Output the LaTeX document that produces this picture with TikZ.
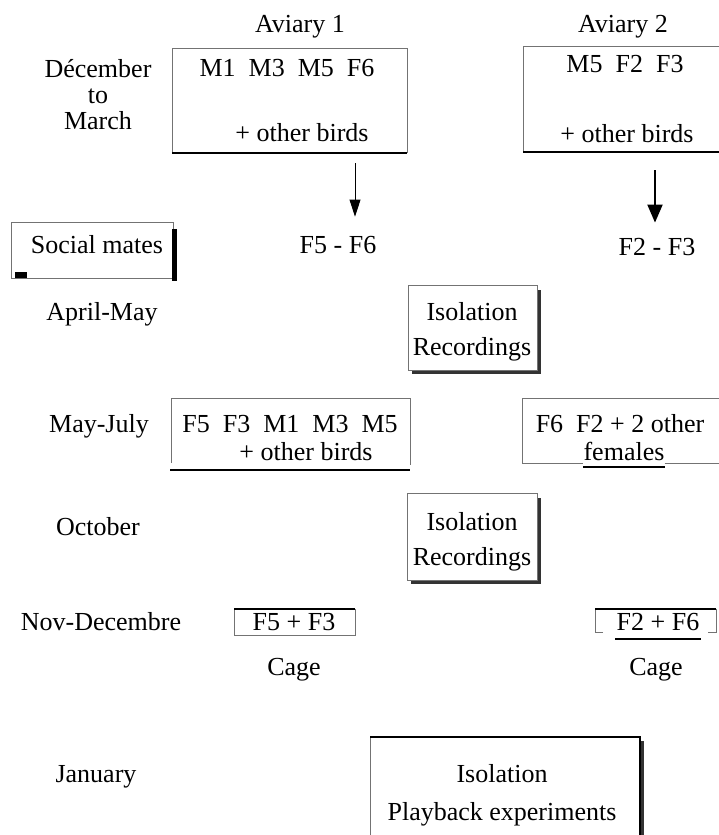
\documentclass[tikz,border=0pt]{standalone}
\usepackage{fontspec}
\setmainfont{Liberation Serif}
\usetikzlibrary{arrows.meta}

\begin{document}
\begin{tikzpicture}[x=1pt,y=1pt]
\tikzstyle{every node}+=[inner sep=0pt, anchor=base, font=\fontsize{26}{26}\selectfont]
\tikzstyle{faint}=[black!55, line width=0.9pt]
\tikzstyle{rule}=[black, line width=1.3pt]
\tikzstyle{shadowline}=[black!80, line width=3.2pt]
\tikzstyle{twoline}=[anchor=center, align=center]
\useasboundingbox (0,0) rectangle (719,-835);
% aviary headings
\draw (300,-32) node (av1) {Aviary 1};
\draw (623,-32) node (av2) {Aviary 2};
% months
\draw (98,-95) node [twoline] (dec) {Décember\\to\\March};
\draw (102,-320) node (apr) {April-May};
\draw (99,-432) node (may) {May-July};
\draw (98,-535) node (oct) {October};
\draw (101,-630) node (nov) {Nov-Decembre};
\draw (96,-782) node (jan) {January};
% december to march
\draw [faint] (172,-153) -- (172,-48) -- (407,-48) -- (407,-153);
\draw [rule] (172,-153) -- (407,-153);
\draw (287,-76) node (win1) {M1\ \ M3\ \ M5\ \ F6};
\draw (302,-141) node (win1b) {+ other birds};
\draw [faint] (523,-152) -- (523,-46) -- (725,-46);
\draw [rule] (523,-152) -- (725,-152);
\draw (625,-72) node (win2) {M5\ \ F2\ \ F3};
\draw (627,-142) node (win2b) {+ other birds};
% pairs
\coordinate (a1) at (355,-163);
\coordinate (a2) at (655,-170);
\draw (338,-253) node (pair1) {F5 - F6};
\draw (657,-255) node (pair2) {F2 - F3};
\draw [black, line width=0.9pt, -{Triangle[length=17pt,width=11pt]}, shorten >=19pt] (a1) -- (a1 |- pair1.north);
\draw [black, line width=2pt, -{Triangle[length=18pt,width=15pt]}, shorten >=15pt] (a2) -- (a2 |- pair2.north);
\draw [faint] (11,-222) rectangle (173,-278);
\draw [black, line width=5pt] (174.5,-229) -- (174.5,-281);
\fill [black] (15,-272) rectangle (27,-278);
\draw (97,-253) node (mates) {Social mates};
% first isolation
\draw [faint] (408,-285) rectangle (537,-370);
\draw [shadowline] (539.5,-290) -- (539.5,-372.5) -- (412,-372.5);
\draw (472,-332) node [twoline, font=\fontsize{26}{35}\selectfont] (iso1) {Isolation\\Recordings};
% may to july
\draw [faint] (171,-463) -- (171,-398) -- (410,-398) -- (410,-465);
\draw [rule] (170,-470) -- (410,-470);
\draw (290,-432) node (sum1) {F5\ \ F3\ \ M1\ \ M3\ \ M5};
\draw (306,-460) node (sum1b) {+ other birds};
\draw [faint] (522,-463) -- (522,-398) -- (725,-398);
\draw (620,-432) node (sum2) {F6\ \ F2 + 2 other};
\draw (624,-460) node (fem) {females};
\draw [faint] (522,-463) -- (fem.west |- 0,-463);
\draw [faint] (fem.east |- 0,-463) -- (725,-463);
\draw [rule] ([yshift=-7pt]fem.base west) -- ([yshift=-7pt]fem.base east);
% second isolation
\draw [faint] (407,-493) rectangle (537,-580);
\draw [shadowline] (539.5,-498) -- (539.5,-582.5) -- (411,-582.5);
\draw (472,-542) node [twoline, font=\fontsize{26}{35}\selectfont] (iso2) {Isolation\\Recordings};
% cages
\draw [faint] (234,-609) rectangle (355,-635);
\draw [rule] (234,-609) -- (355,-609);
\draw (294,-630) node (cage1) {F5 + F3};
\draw (294,-675) node (cage1l) {Cage};
\draw [faint] (603,-632) -- (595,-632) -- (595,-609) -- (716,-609) -- (716,-632) -- (708,-632);
\draw [rule] (595,-609) -- (716,-609);
\draw (658,-630) node (cage2) {F2 + F6};
\draw [rule] (615,-639) -- (701,-639);
\draw (656,-675) node (cage2l) {Cage};
% playback
\draw [faint] (370,-840) -- (370,-737);
\draw [rule] (370,-737) -- (640,-737) -- (640,-840);
\draw [shadowline] (642.5,-741) -- (642.5,-840);
\draw (502,-795) node [twoline, font=\fontsize{26}{38}\selectfont] (play) {Isolation\\Playback experiments};
\end{tikzpicture}
\end{document}
